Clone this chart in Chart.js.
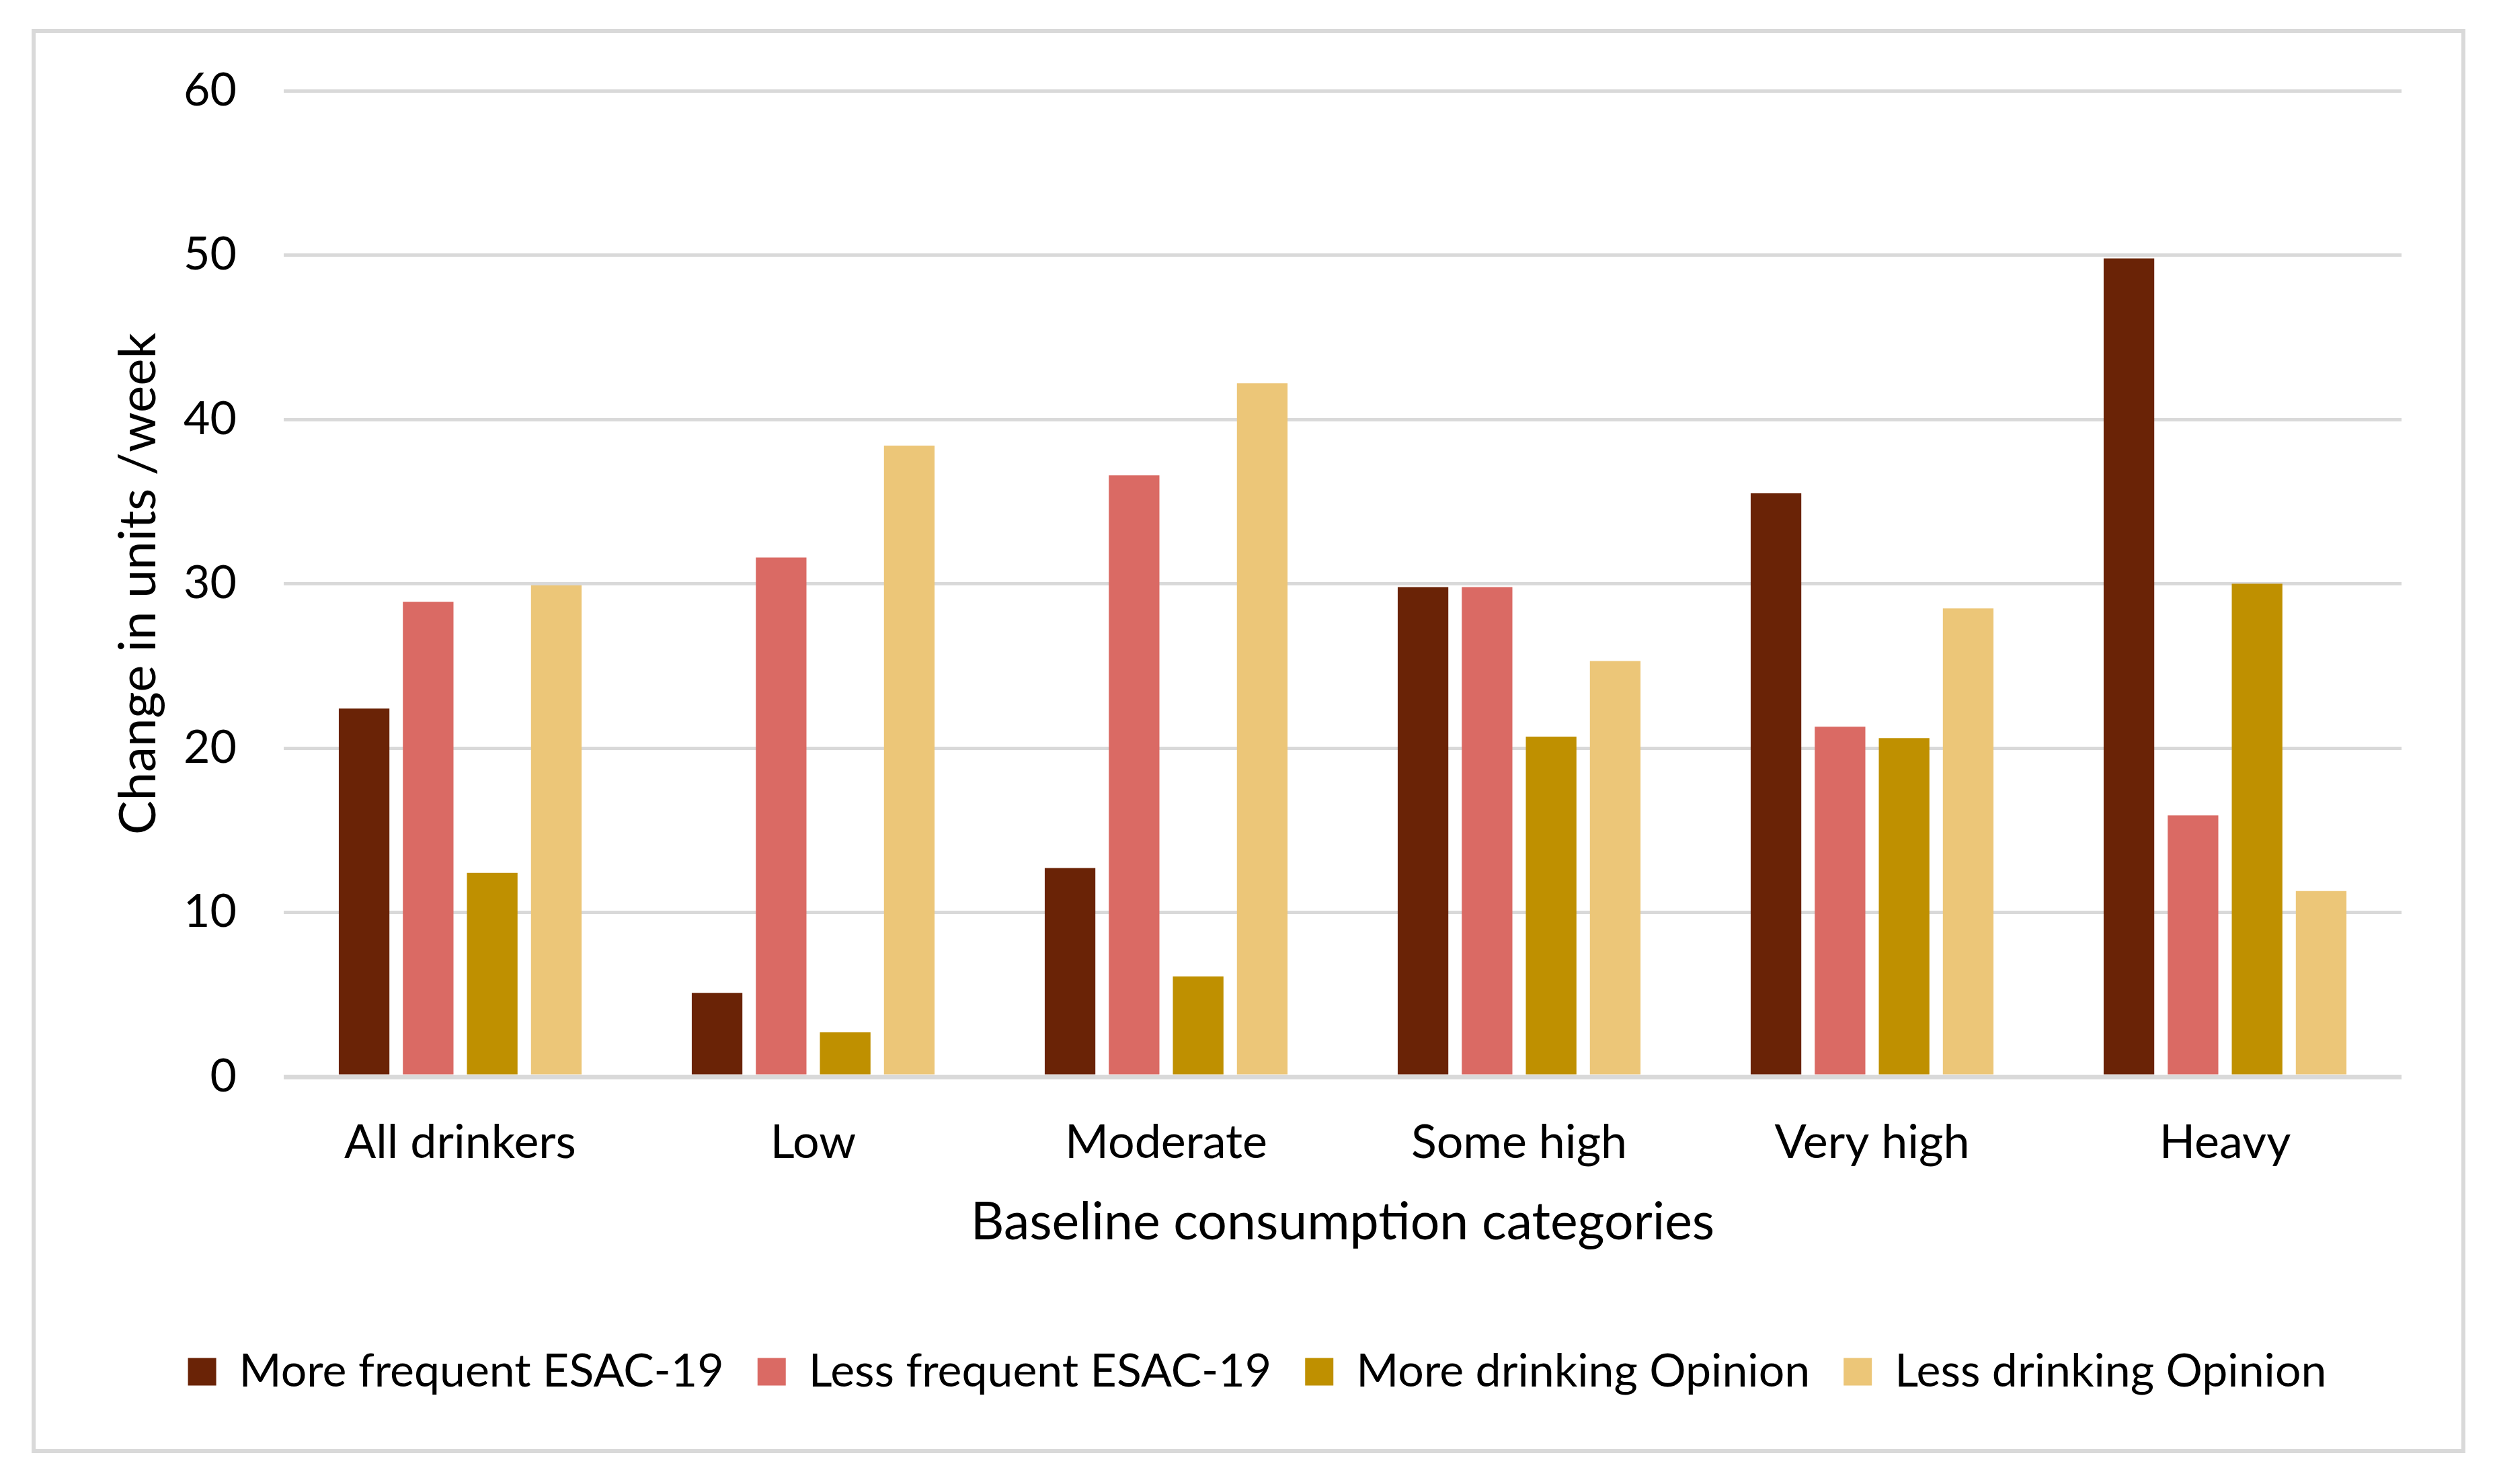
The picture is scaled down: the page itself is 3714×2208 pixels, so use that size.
<!DOCTYPE html>
<html>
<head>
<meta charset="utf-8">
<script src="https://cdn.jsdelivr.net/npm/chart.js@4.4.0/dist/chart.umd.min.js"></script>
<style>
  html, body { margin: 0; padding: 0; background: #fff; }
  #wrap { position: relative; width: 3714px; height: 2208px; }
  #frame { position: absolute; left: 47px; top: 43px; width: 3608px; height: 2107px; border: 6px solid #d9d9d9; }
  canvas { position: absolute; left: 0; top: 0; }
</style>
</head>
<body>
<div id="wrap">
  <div id="frame"></div>
  <canvas id="chart" width="3714" height="2208"></canvas>
</div>
<script>
const categories = ['All drinkers', 'Low', 'Moderate', 'Some high', 'Very high', 'Heavy'];
const moreFrequentESAC = [22.4, 5.1, 12.7, 29.8, 35.5, 49.8];
const lessFrequentESAC = [28.9, 31.6, 36.6, 29.8, 21.3, 15.9];
const moreDrinkingOpinion = [12.4, 2.7, 6.1, 20.7, 20.6, 30.0];
const lessDrinkingOpinion = [29.9, 38.4, 42.2, 25.3, 28.5, 11.3];
const yTicks = [0, 10, 20, 30, 40, 50, 60];

const font = 'Lato';

const ctx = document.getElementById('chart').getContext('2d');
const chart = new Chart(ctx, {
  type: 'bar',
  data: {
    labels: categories,
    datasets: [
      { label: 'More frequent ESAC-19', data: moreFrequentESAC, backgroundColor: '#6a2306' },
      { label: 'Less frequent ESAC-19', data: lessFrequentESAC, backgroundColor: '#da6a64' },
      { label: 'More drinking Opinion', data: moreDrinkingOpinion, backgroundColor: '#bf9000' },
      { label: 'Less drinking Opinion', data: lessDrinkingOpinion, backgroundColor: '#ecc678' }
    ]
  },
  options: {
    responsive: false,
    animation: false,
    devicePixelRatio: 1,
    layout: { padding: { left: 168, right: 142, top: 135, bottom: 123 } },
    datasets: {
      bar: { categoryPercentage: 0.726, barPercentage: 0.79, borderWidth: 0 }
    },
    plugins: {
      tooltip: { enabled: false },
      legend: {
        position: 'bottom',
        labels: {
          boxWidth: 42,
          boxHeight: 41,
          padding: 50,
          color: '#000',
          font: { family: font, size: 68 }
        }
      }
    },
    scales: {
      x: {
        grid: { display: false, drawTicks: false },
        border: { display: false },
        ticks: { color: '#000', padding: 56, font: { family: font, size: 70 } },
        title: {
          display: true,
          text: 'Baseline consumption categories',
          color: '#000',
          font: { family: font, size: 77 },
          padding: { top: 20, bottom: 92 }
        },
        afterFit: (s) => { s.height = 355; }
      },
      y: {
        min: 0,
        max: 60,
        afterBuildTicks: (s) => { s.ticks = yTicks.map(v => ({ value: v })); },
        grid: {
          color: '#d9d9d9',
          lineWidth: (c) => (c.tick && c.tick.value === 0 ? 7 : 5),
          drawTicks: false
        },
        border: { display: false },
        ticks: { color: '#000', padding: 70, font: { family: font, size: 68 } },
        title: {
          display: true,
          text: 'Change in units /week',
          color: '#000',
          font: { family: font, size: 76, lineHeight: 1 },
          padding: { top: 0, bottom: 0 }
        },
        afterFit: (s) => { s.width = 254; }
      }
    }
  }
});
</script>
</body>
</html>
